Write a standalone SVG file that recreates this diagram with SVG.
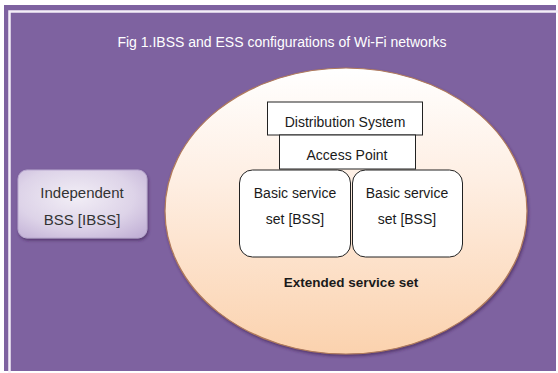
<svg xmlns="http://www.w3.org/2000/svg" width="558" height="373" viewBox="0 0 558 373">
<defs>
<linearGradient id="ellG" x1="0" y1="0" x2="0" y2="1">
<stop offset="0" stop-color="#ffffff"/>
<stop offset="0.4" stop-color="#feeee2"/>
<stop offset="1" stop-color="#fbd2ae"/>
</linearGradient>
<radialGradient id="ibssG" cx="0.45" cy="0.4" r="0.75">
<stop offset="0" stop-color="#f2eef6"/>
<stop offset="0.6" stop-color="#ddd3e8"/>
<stop offset="1" stop-color="#c2b1d6"/>
</radialGradient>
<filter id="sh" x="-10%" y="-10%" width="125%" height="125%">
<feDropShadow dx="1" dy="2" stdDeviation="1.5" flood-color="#3a2450" flood-opacity="0.6"/>
</filter>
</defs>
<style>
.t{font-family:"Liberation Sans",Arial,sans-serif;fill:#1a1a1a;text-anchor:middle}
.box{fill:#ffffff;stroke:#222;stroke-width:1}
</style>
<rect x="0" y="0" width="558" height="373" fill="#ffffff"/>
<rect x="4" y="5" width="552" height="366" fill="#7e62a0"/>
<path d="M9.5 373 V11.5 H558" fill="none" stroke="#f4eef8" stroke-width="2.5"/>
<text x="282" y="47" class="t" style="fill:#ffffff;font-size:14px">Fig 1.IBSS and ESS configurations of Wi-Fi networks</text>
<g id="ess">
<ellipse cx="346" cy="211" rx="181" ry="143" fill="url(#ellG)" stroke="#b07a5c" stroke-width="1.2" filter="url(#sh)"/>
<text x="351" y="287" class="t" style="font-size:13.5px;font-weight:bold">Extended service set</text>
</g>
<g id="ibss">
<rect x="18" y="170" width="129" height="68" rx="9" fill="url(#ibssG)" stroke="#b9a9cf" stroke-width="1" filter="url(#sh)"/>
<text x="82" y="198" class="t" style="font-size:15px;fill:#333">Independent</text>
<text x="82" y="225" class="t" style="font-size:15px;fill:#333">BSS [IBSS]</text>
</g>
<g id="ds">
<rect x="267.5" y="102" width="155" height="33" class="box"/>
<text x="345" y="127" class="t" style="font-size:14px">Distribution System</text>
</g>
<g id="ap">
<rect x="279.5" y="135" width="136" height="34" class="box"/>
<text x="347" y="160" class="t" style="font-size:14px">Access Point</text>
</g>
<g id="bss1">
<rect x="239.5" y="170" width="111" height="87" rx="13" class="box"/>
<text x="295" y="198" class="t" style="font-size:14px">Basic service</text>
<text x="295" y="224" class="t" style="font-size:14px">set [BSS]</text>
</g>
<g id="bss2">
<rect x="352.5" y="170" width="110" height="87" rx="13" class="box"/>
<text x="407" y="198" class="t" style="font-size:14px">Basic service</text>
<text x="407" y="224" class="t" style="font-size:14px">set [BSS]</text>
</g>
<g id="connectors"></g>
</svg>
